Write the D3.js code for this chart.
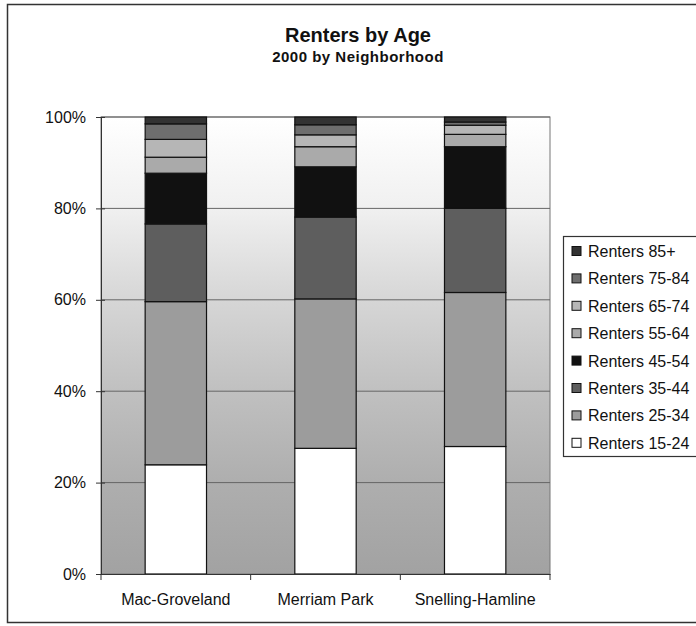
<!DOCTYPE html>
<html><head><meta charset="utf-8">
<script src="https://cdn.jsdelivr.net/npm/d3@7"></script>
<style>body{margin:0;background:#fff;}svg{display:block;font-family:Arial,"Liberation Sans",sans-serif;}</style>
</head><body>
<svg id="chart" width="696" height="626"></svg>
<script>
const categories = ["Mac-Groveland", "Merriam Park", "Snelling-Hamline"];
const seriesNames = ["Renters 15-24","Renters 25-34","Renters 35-44","Renters 45-54","Renters 55-64","Renters 65-74","Renters 75-84","Renters 85+"];
const r15_24 = [23.9, 27.5, 27.9];
const r25_34 = [35.7, 32.7, 33.7];
const r35_44 = [17.0, 17.9, 18.4];
const r45_54 = [11.1, 11.0, 13.5];
const r55_64 = [3.5, 4.4, 2.7];
const r65_74 = [3.9, 2.6, 2.0];
const r75_84 = [3.4, 2.2, 0.7];
const r85p   = [1.5, 1.7, 1.1];
const seriesValues = [r15_24, r25_34, r35_44, r45_54, r55_64, r65_74, r75_84, r85p];
const seriesColors = ["#ffffff","#9c9c9c","#5e5e5e","#111111","#aaaaaa","#b6b6b6","#6e6e6e","#333333"];
const yTicks = [0, 0.2, 0.4, 0.6, 0.8, 1.0];

const svg = d3.select("#chart");
const m = {left:101, right:550, top:117, bottom:574};
const FONT = "Arial, 'Liberation Sans', sans-serif";

// outer frame
svg.append("rect").attr("x",7.5).attr("y",4.5).attr("width",700).attr("height",618)
  .attr("fill","#fff").attr("stroke","#333").attr("stroke-width",1.5);

const defs = svg.append("defs");
const grad = defs.append("linearGradient").attr("id","bg").attr("x1",0).attr("y1",0).attr("x2",0).attr("y2",1);
[["0%","#ffffff"],["20%","#f0f0f0"],["40%","#d6d6d6"],["60%","#c0c0c0"],["80%","#aeaeae"],["100%","#a2a2a2"]]
  .forEach(([o,c])=>grad.append("stop").attr("offset",o).attr("stop-color",c));

const x = d3.scaleBand().domain(categories).range([m.left, m.right]).paddingInner(0.59).paddingOuter(0.295);
const y = d3.scaleLinear().domain([0,1]).range([m.bottom, m.top]);

svg.append("rect").attr("x",m.left).attr("y",m.top).attr("width",m.right-m.left).attr("height",m.bottom-m.top)
  .attr("fill","url(#bg)").attr("stroke","#777").attr("stroke-width",1);

// gridlines
svg.append("g").selectAll("line").data(yTicks.slice(1)).join("line")
  .attr("x1",m.left).attr("x2",m.right).attr("y1",d=>y(d)).attr("y2",d=>y(d))
  .attr("stroke","#666").attr("stroke-width",1);

// stacked data
const table = categories.map((c,i)=>{
  const o = {cat:c};
  seriesNames.forEach((s,j)=>o[s]=seriesValues[j][i]);
  return o;
});
const stack = d3.stack().keys(seriesNames).offset(d3.stackOffsetExpand);
const layers = stack(table);

svg.append("g").selectAll("g").data(layers).join("g")
  .attr("fill",(d,i)=>seriesColors[i])
  .selectAll("rect").data(d=>d).join("rect")
  .attr("x",d=>x(d.data.cat)).attr("width",x.bandwidth())
  .attr("y",d=>y(d[1])).attr("height",d=>y(d[0])-y(d[1]))
  .attr("stroke","#111").attr("stroke-width",1.2);

// y axis (ticks cross the axis)
const yAxis = d3.axisLeft(y).tickValues(yTicks).tickFormat(d3.format(".0%")).tickSize(5).tickPadding(10);
const ga = svg.append("g").attr("transform",`translate(${m.left},0)`).call(yAxis);
ga.select(".domain").attr("stroke","#333");
ga.selectAll(".tick line").attr("stroke","#333").attr("x1",4);
ga.selectAll("text").attr("font-size",16).attr("fill","#111").attr("font-family",FONT);

// x axis
const xAxis = d3.axisBottom(x).tickSize(0).tickPadding(20);
const gx = svg.append("g").attr("transform",`translate(0,${m.bottom})`).call(xAxis);
gx.select(".domain").attr("stroke","#333");
gx.selectAll("text").attr("font-size",16).attr("fill","#111").attr("font-family",FONT);
const bounds = d3.range(categories.length+1).map(i=>m.left + i*(m.right-m.left)/categories.length);
gx.selectAll(".bt").data(bounds).join("line").attr("class","bt")
  .attr("x1",d=>d).attr("x2",d=>d).attr("y1",0).attr("y2",6).attr("stroke","#333");

// title
svg.append("text").attr("x",358).attr("y",42).attr("text-anchor","middle")
  .attr("font-size",20).attr("font-weight","bold").attr("fill","#111").text("Renters by Age");
svg.append("text").attr("x",358).attr("y",62).attr("text-anchor","middle")
  .attr("font-size",15).attr("font-weight","bold").attr("letter-spacing",0.5).attr("fill","#111").text("2000 by Neighborhood");

// legend
const lg = svg.append("g");
lg.append("rect").attr("x",563.5).attr("y",236.5).attr("width",140).attr("height",220)
  .attr("fill","#fff").attr("stroke","#333").attr("stroke-width",1.2);
const legendOrder = seriesNames.map((s,i)=>i).reverse();
const items = lg.selectAll("g.item").data(legendOrder).join("g").attr("class","item")
  .attr("transform",(d,i)=>`translate(572,${251 + i*27.4})`);
items.append("rect").attr("x",0).attr("y",-4.5).attr("width",9).attr("height",9)
  .attr("fill",d=>seriesColors[d]).attr("stroke","#111").attr("stroke-width",1);
items.append("text").attr("x",16).attr("y",6).attr("font-size",16).attr("fill","#111").attr("font-family",FONT).text(d=>seriesNames[d]);
</script>
</body></html>
